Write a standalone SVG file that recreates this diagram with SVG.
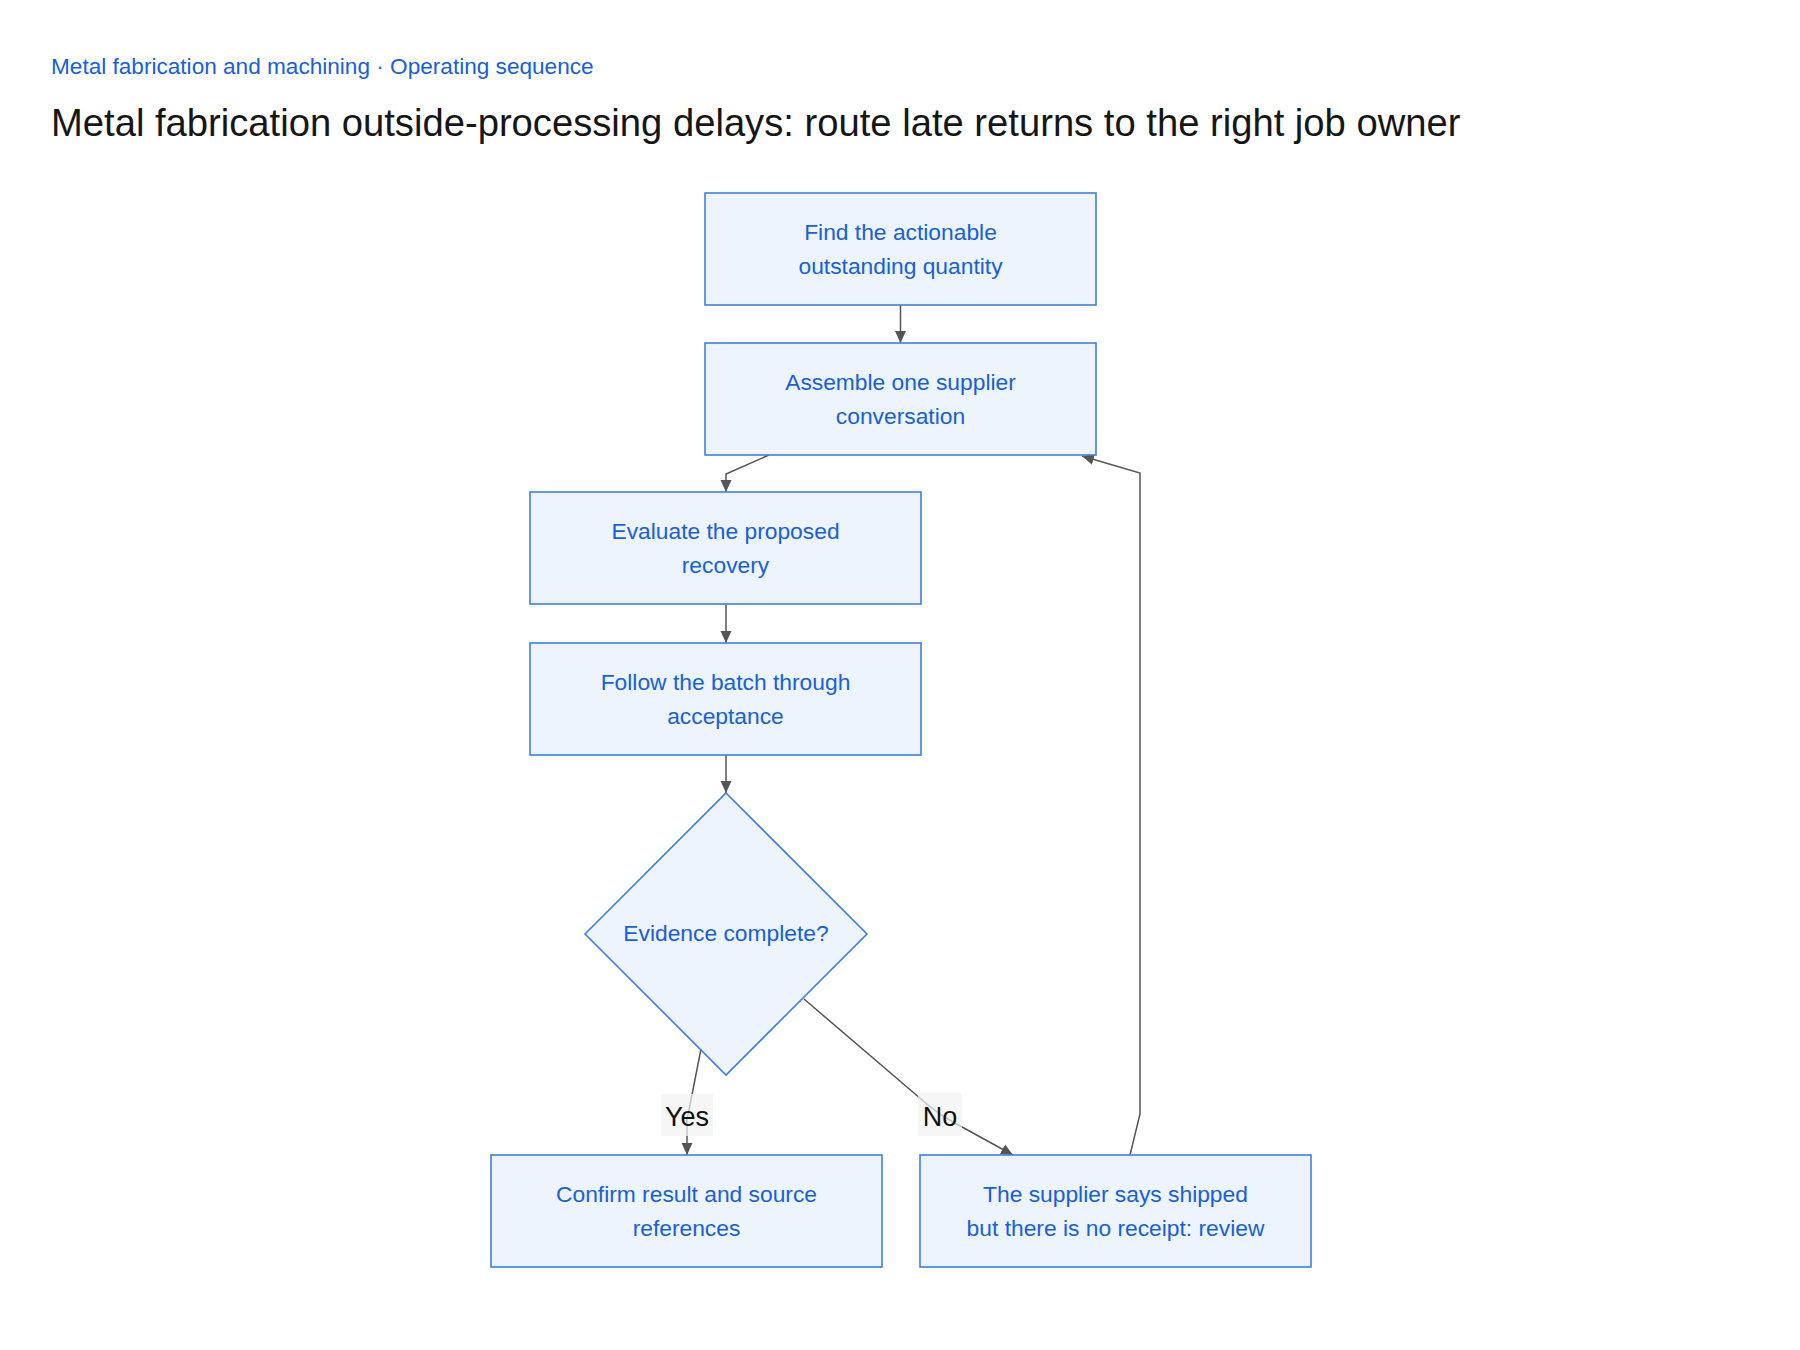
<svg xmlns="http://www.w3.org/2000/svg" width="1800" height="1350" viewBox="0 0 1800 1350">
  <style>
    .node rect, .node polygon { fill: #edf4fe; stroke: #3d7fe6; stroke-width: 1.6; }
    .node text { font-family: "Liberation Sans", Arial, sans-serif; font-size: 22.8px; fill: #1660e0; text-anchor: middle; }
    .edge { fill: none; stroke: #555555; stroke-width: 1.5; }
    .elabel-bg { fill: #f2f2f2; opacity: 0.7; }
    .elabel { font-family: "Liberation Sans", Arial, sans-serif; font-size: 27px; fill: #111111; text-anchor: middle; }
  </style>
  <defs>
    <marker id="arrow" viewBox="0 0 12 12" refX="12" refY="6" markerWidth="12" markerHeight="12" markerUnits="userSpaceOnUse" orient="auto">
      <path d="M0,0.5 L12,6 L0,11.5 Z" fill="#555555"/>
    </marker>
  </defs>
  <rect width="1800" height="1350" fill="#ffffff"/>
  <text x="51" y="74" font-family="Liberation Sans, Arial, sans-serif" font-size="22.6" fill="#1660e0">Metal fabrication and machining · Operating sequence</text>
  <text x="51" y="136" font-family="Liberation Sans, Arial, sans-serif" font-size="38.2" fill="#161616">Metal fabrication outside-processing delays: route late returns to the right job owner</text>

  <g id="connectors">
    <path class="edge" d="M900.5,305 L900.5,343" marker-end="url(#arrow)"/>
    <path class="edge" d="M769,455 L726,474 L726,492" marker-end="url(#arrow)"/>
    <path class="edge" d="M726,605 L726,643" marker-end="url(#arrow)"/>
    <path class="edge" d="M726,755 L726,793" marker-end="url(#arrow)"/>
    <path class="edge" d="M701,1049 L687,1120 L687,1155" marker-end="url(#arrow)"/>
    <path class="edge" d="M804,999 L928,1105 Q940,1115 953,1122 L1013,1155" marker-end="url(#arrow)"/>
    <path class="edge" d="M1130,1155 L1140,1114 L1140,473 L1082,456" marker-end="url(#arrow)"/>
    <g id="label-yes">
      <rect class="elabel-bg" x="661" y="1094" width="52" height="42"/>
      <text class="elabel" x="687" y="1126">Yes</text>
    </g>
    <g id="label-no">
      <rect class="elabel-bg" x="918" y="1093" width="44" height="43"/>
      <text class="elabel" x="940" y="1126">No</text>
    </g>
  </g>

  <g id="node-find" class="node">
    <rect x="705" y="193" width="391" height="112"/>
    <text x="900.5" y="240">Find the actionable</text>
    <text x="900.5" y="274">outstanding quantity</text>
  </g>
  <g id="node-assemble" class="node">
    <rect x="705" y="343" width="391" height="112"/>
    <text x="900.5" y="390">Assemble one supplier</text>
    <text x="900.5" y="424">conversation</text>
  </g>
  <g id="node-evaluate" class="node">
    <rect x="530" y="492" width="391" height="112"/>
    <text x="725.5" y="539">Evaluate the proposed</text>
    <text x="725.5" y="573">recovery</text>
  </g>
  <g id="node-follow" class="node">
    <rect x="530" y="643" width="391" height="112"/>
    <text x="725.5" y="690">Follow the batch through</text>
    <text x="725.5" y="724">acceptance</text>
  </g>
  <g id="node-evidence" class="node">
    <polygon points="726,793 867,934 726,1075 585,934"/>
    <text x="726" y="941">Evidence complete?</text>
  </g>
  <g id="node-confirm" class="node">
    <rect x="491" y="1155" width="391" height="112"/>
    <text x="686.5" y="1202">Confirm result and source</text>
    <text x="686.5" y="1236">references</text>
  </g>
  <g id="node-review" class="node">
    <rect x="920" y="1155" width="391" height="112"/>
    <text x="1115.5" y="1202">The supplier says shipped</text>
    <text x="1115.5" y="1236">but there is no receipt: review</text>
  </g>
</svg>
